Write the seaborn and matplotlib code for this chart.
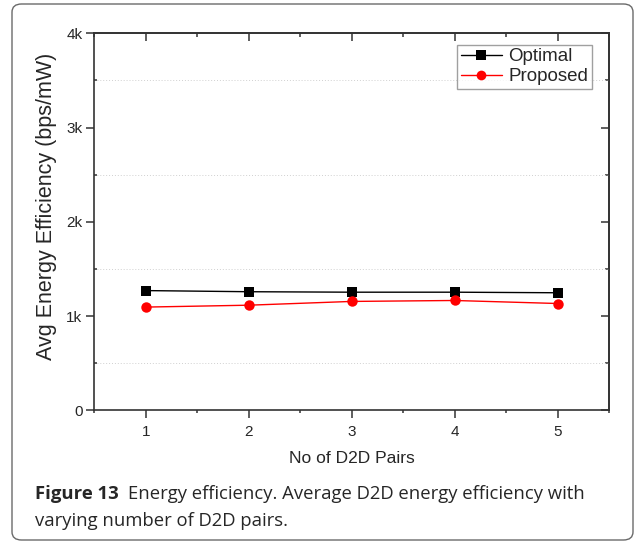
import matplotlib
matplotlib.use("Agg")
import matplotlib.pyplot as plt
import matplotlib.ticker as mticker
from matplotlib.patches import FancyBboxPatch
import seaborn as sns
import pandas as pd

# Number of D2D pairs and average energy efficiency (bps/mW)
d2d_pairs = [1, 2, 3, 4, 5]
optimal = [1270, 1258, 1253, 1253, 1247]
proposed = [1095, 1115, 1155, 1165, 1133]
series_names = ["Optimal", "Proposed"]
y_ticks = [0, 1000, 2000, 3000, 4000]
y_tick_labels = ["0", "1k", "2k", "3k", "4k"]

df = pd.DataFrame({
    "pairs": d2d_pairs * 2,
    "eff": optimal + proposed,
    "scheme": [series_names[0]] * len(optimal) + [series_names[1]] * len(proposed),
})

sns.set_style("ticks")
plt.rcParams["font.family"] = ["Liberation Sans", "DejaVu Sans"]

fig = plt.figure(figsize=(6.37, 5.44), dpi=100)
ax = fig.add_axes([0.148, 0.2458, 0.808, 0.693])

sns.lineplot(data=df, x="pairs", y="eff", hue="scheme", style="scheme",
             palette={"Optimal": "black", "Proposed": "#ff0000"},
             markers={"Optimal": "s", "Proposed": "o"}, dashes=False,
             markersize=7.5, markeredgewidth=0, linewidth=1.0, ax=ax)

ax.set_xlim(0.5, 5.5)
ax.set_ylim(0, 4000)
ax.set_xticks(d2d_pairs)
ax.set_yticks(y_ticks)
ax.set_yticklabels(y_tick_labels)
ax.xaxis.set_minor_locator(mticker.MultipleLocator(0.5))
ax.yaxis.set_minor_locator(mticker.MultipleLocator(500))

# dotted grid on the half-thousand levels
ax.grid(False)
ax.yaxis.grid(True, which="minor", linestyle=(0, (1, 2)), color="#d0d0d0", linewidth=0.7)
ax.set_axisbelow(True)

for s in ax.spines.values():
    s.set_linewidth(1.2)
    s.set_color("#333333")

ax.tick_params(axis="x", which="major", direction="out", length=5.5, width=1.1,
               color="#333333", labelsize=11, pad=5)
ax.tick_params(axis="x", which="minor", direction="out", length=2.5, width=1.1, color="#333333")
ax.tick_params(axis="y", which="major", direction="out", length=5.5, width=1.1,
               color="#333333", labelsize=11, pad=3)
ax.tick_params(axis="y", which="minor", direction="in", length=2.5, width=1.1, color="#333333")

# inward ticks on the top and right edges
top = ax.secondary_xaxis("top")
top.set_xticks(d2d_pairs)
top.xaxis.set_minor_locator(mticker.MultipleLocator(0.5))
top.tick_params(which="major", direction="in", length=5.5, width=1.1, color="#333333", labeltop=False)
top.tick_params(which="minor", direction="in", length=3, width=1.1, color="#333333")
top.spines["top"].set_linewidth(1.2)
right = ax.secondary_yaxis("right")
right.set_yticks(y_ticks)
right.yaxis.set_minor_locator(mticker.MultipleLocator(500))
right.tick_params(which="major", direction="in", length=5.5, width=1.1, color="#333333", labelright=False)
right.tick_params(which="minor", direction="in", length=3, width=1.1, color="#333333")
right.spines["right"].set_linewidth(1.2)

ax.set_xlabel("No of D2D Pairs", fontsize=12.5, labelpad=9)
ax.set_ylabel("Avg Energy Efficiency (bps/mW)", fontsize=15.5)
ax.yaxis.set_label_coords(-0.072, 0.54)

leg = ax.legend(loc="upper right", bbox_to_anchor=(0.978, 0.985), fontsize=13.5,
                frameon=True, fancybox=False, edgecolor="#888888",
                handlelength=2.2, handletextpad=0.35, borderpad=0.2,
                labelspacing=0.15, borderaxespad=0.3)
leg.get_frame().set_linewidth(1.0)
for h in leg.legend_handles:
    h.set_markersize(7)

# rounded frame around the whole figure
frame = FancyBboxPatch((12 / 637, 4 / 544), 621 / 637, 536 / 544,
                       boxstyle="round,pad=0,rounding_size=0.015",
                       transform=fig.transFigure, fill=False,
                       edgecolor="#6a6a6a", linewidth=1.0)
fig.add_artist(frame)

cap_font = ["Open Sans", "DejaVu Sans"]
fig.text(35 / 637, 1 - 499 / 544, "Figure 13", fontsize=13.3, fontweight="bold",
         family=cap_font, va="baseline", ha="left")
fig.text(128 / 637, 1 - 499 / 544,
         "Energy efficiency. Average D2D energy efficiency with",
         fontsize=13.3, family=cap_font, va="baseline", ha="left")
fig.text(35 / 637, 1 - 526 / 544, "varying number of D2D pairs.",
         fontsize=13.3, family=cap_font, va="baseline", ha="left")

fig.savefig("out.png", dpi=100)
